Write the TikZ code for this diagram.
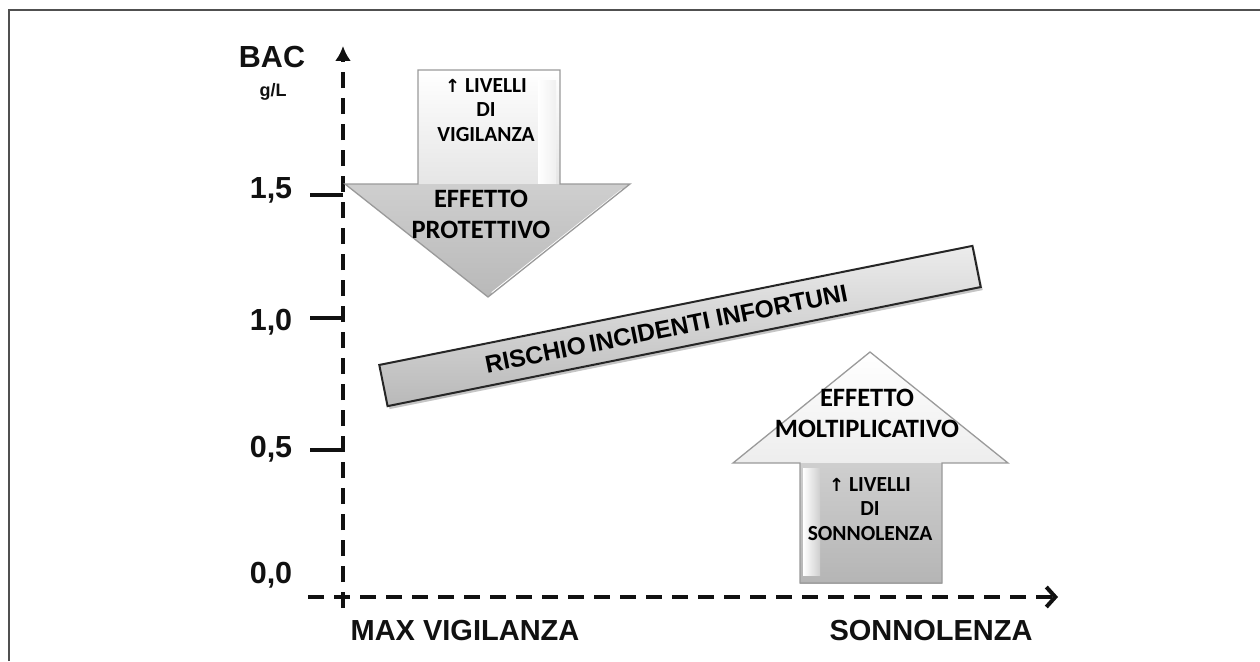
\documentclass[tikz,border=0pt]{standalone}
\usepackage{fontspec}
\setmainfont{Liberation Sans}
\newfontfamily\carl{Carlito}
\newfontfamily\dejavu{DejaVu Sans}
\usetikzlibrary{arrows.meta,shadows}
\definecolor{framegray}{HTML}{505050}
\definecolor{axisblack}{HTML}{111111}
\definecolor{outl}{HTML}{9A9A9A}
\tikzset{
  axisline/.style={line width=4pt, dash pattern=on 16pt off 10pt, axisblack},
  tickline/.style={line width=3.5pt, axisblack},
  ticklbl/.style={font=\fontsize{30.5}{30}\selectfont\bfseries, text=axisblack, inner sep=0pt},
  axislbl/.style={font=\fontsize{29}{29}\selectfont\bfseries, text=axisblack, inner sep=0pt},
  smalltxt/.style={font=\carl\fontsize{21.5}{24.5}\selectfont\bfseries, align=center, inner sep=0pt},
  bigtxt/.style={font=\carl\fontsize{26.5}{31}\selectfont\bfseries, align=center, inner sep=0pt},
  arrowoutline/.style={draw=outl, line width=1.3pt, line join=miter},
  barbox/.style={draw=black!85, line width=2pt, top color=gray!15, bottom color=gray!55,
     minimum width=605pt, minimum height=42pt, inner sep=0pt,
     drop shadow={shadow xshift=2pt, shadow yshift=-3pt, opacity=0.45},
     font=\fontsize{24.5}{24.5}\selectfont\bfseries}
}
\begin{document}
\begin{tikzpicture}[x=1pt,y=-1pt]
\useasboundingbox (0,0) rectangle (1260,661);
\fill[white] (0,0) rectangle (1260,661);
% frame (top and left edges)
\draw[framegray, line width=2.2pt] (9,661) -- (9,10) -- (1260,10);

% axes
\coordinate (yb) at (343,608);
\coordinate (yt) at (343,46);
\coordinate (xl) at (308,597);
\coordinate (xr) at (1058,597);
\draw[axisline, -{Latex[length=15pt,width=16pt]}] (yb) -- (yt);
\draw[axisline, -{Straight Barb[length=9pt,width=20pt]}] (xl) -- (xr);

% ticks
\coordinate (t15) at (343,195);
\coordinate (t10) at (343,318);
\coordinate (t05) at (343,450);
\draw[tickline] (t15) -- ++(-33,0);
\draw[tickline] (t10) -- ++(-33,0);
\draw[tickline] (t05) -- ++(-33,0);

% tick labels
\node[ticklbl] (l15) at (271,190) {1,5};
\node[ticklbl] (l10) at (271,322) {1,0};
\node[ticklbl] (l05) at (271,449) {0,5};
\node[ticklbl] (l00) at (271,575) {0,0};
\node[ticklbl] (bac) at (272,57) {BAC};
\node[font=\fontsize{18}{18}\selectfont\bfseries, text=axisblack, inner sep=0pt] (gl) at (273,92) {g/L};

% axis labels
\node[axislbl] (mv) at (465,631) {MAX VIGILANZA};
\node[axislbl] (sn) at (931,631) {SONNOLENZA};

% down arrow (effetto protettivo)
\shade[top color=white, bottom color=gray!20] (418,70) rectangle (560,184);
\shade[left color=white, right color=gray!12] (538,80) rectangle (556,184);
\shade[top color=gray!38, bottom color=gray!55] (345,184) -- (630,184) -- (488,297) -- cycle;
\draw[white, line width=2pt] (622,190) -- (492,293);
\draw[arrowoutline] (418,70) -- (560,70) -- (560,184) -- (630,184) -- (488,297) -- (345,184) -- (418,184) -- cycle;

% up arrow (effetto moltiplicativo)
\shade[top color=white, bottom color=gray!14] (733,463) -- (1008,463) -- (870,352) -- cycle;
\shade[top color=gray!38, bottom color=gray!58] (800,463) rectangle (942,583);
\shade[left color=white, right color=gray!38] (803,468) rectangle (820,575);
\draw[arrowoutline] (800,583) -- (942,583) -- (942,463) -- (1008,463) -- (870,352) -- (733,463) -- (800,463) -- cycle;

% arrow texts
\node[smalltxt] (dsh) at (486,110) {{\dejavu\fontsize{18}{18}\selectfont\bfseries ↑} LIVELLI\\DI\\VIGILANZA};
\node[bigtxt] (dhd) at (481,214) {EFFETTO\\PROTETTIVO};
\node[bigtxt] (uhd) at (867,413) {EFFETTO\\MOLTIPLICATIVO};
\node[smalltxt] (ush) at (870,509) {{\dejavu\fontsize{18}{18}\selectfont\bfseries ↑} LIVELLI\\DI\\SONNOLENZA};

% risk bar
\node[barbox, rotate=11.35] (bar) at (680,326) {\hspace*{-28pt}RISCHIO\,INCIDENTI INFORTUNI};
\end{tikzpicture}
\end{document}
